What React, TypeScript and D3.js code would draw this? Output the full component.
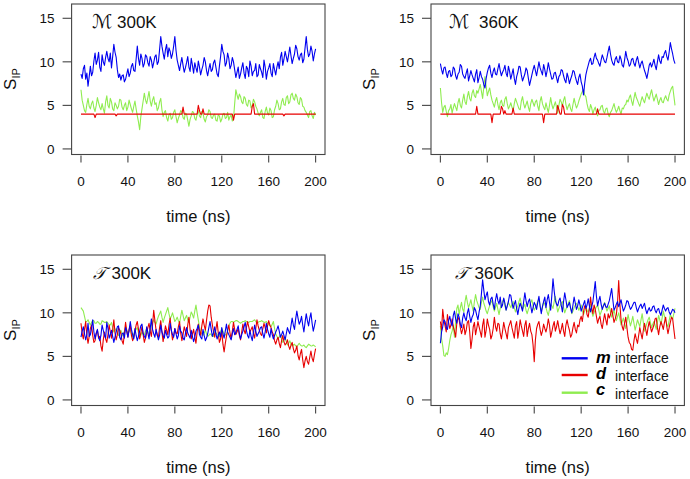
import React from "react";
import * as d3 from "d3";

// sampling interval of the series (ns)
const SAMPLE_NS = 1;
const xTickValues = [0, 40, 80, 120, 160, 200];
const yTickValues = [0, 5, 10, 15];
const seriesNames = ["m", "d", "c"];
const seriesColors = ["#0000f0", "#e80000", "#8fec50"];

// M 300K
const m300Blue = [
  8.6, 8.1, 9.2, 9.6, 8.0, 8.7, 7.2, 8.3, 9.5, 8.4,
  8.8, 10.1, 11.0, 9.7, 10.2, 11.1, 9.4, 8.9, 10.8, 10.0,
  9.6, 10.5, 11.2, 10.4, 10.0, 11.0, 9.3, 10.6, 12.0, 11.1,
  10.5, 9.1, 8.2, 8.6, 7.9, 8.4, 8.5, 7.7, 8.0, 8.6,
  9.2, 8.3, 8.7, 9.5, 9.8, 9.0, 8.9, 10.3, 11.8, 10.4,
  9.6, 10.9, 10.4, 9.4, 9.8, 10.8, 10.6, 9.9, 9.5, 10.6,
  10.2, 9.3, 9.9, 10.6, 10.8, 9.7, 10.0, 11.4, 12.9, 11.8,
  11.0, 10.3, 11.4, 12.0, 10.6, 11.6, 11.2, 10.4, 10.9, 11.8,
  12.9, 11.3, 10.2, 9.6, 9.0, 9.8, 10.5, 9.6, 8.8, 9.3,
  9.9, 10.6, 9.4, 8.9, 10.4, 9.6, 8.7, 9.9, 9.3, 8.8,
  10.1, 9.4, 8.5, 9.1, 9.6, 10.5, 10.0, 9.0, 8.4, 9.2,
  9.8, 8.9, 9.1, 9.9, 10.2, 9.4, 8.6, 8.3, 9.5, 10.6,
  12.0, 11.2, 10.8, 9.5, 9.9, 11.0, 10.4, 9.2, 9.6, 10.5,
  10.0, 9.1, 8.2, 8.8, 9.4, 8.1, 8.6, 9.3, 9.9, 8.7,
  8.1, 9.5, 9.2, 8.3, 10.1, 9.5, 8.4, 8.9, 9.0, 9.8,
  8.3, 8.5, 9.7, 9.2, 8.8, 8.2, 10.2, 9.4, 8.0, 8.9,
  9.3, 9.8, 8.7, 8.3, 9.8, 9.1, 8.5, 9.4, 10.0, 9.2,
  10.5, 11.1, 9.6, 10.3, 11.2, 10.6, 10.0, 10.8, 11.7, 10.7,
  9.8, 10.4, 10.9, 11.9, 11.5, 10.6, 10.2, 10.8, 11.0, 9.9,
  10.3, 11.6, 12.9, 11.4, 10.6, 10.9, 11.8, 11.2, 10.1, 10.9,
  11.5,
];
const m300Red = [
  4, 4, 4, 4, 4, 4, 4, 4, 4, 4,
  4, 4, 3.6, 4, 4, 4, 4, 4, 4, 4,
  4, 4, 4, 4, 4, 4, 4, 4, 4, 4,
  3.8, 4, 4, 4, 4, 4, 4, 4, 4, 4,
  4, 4, 4, 4, 4, 4, 4, 4, 4, 4,
  4, 4, 4, 4, 4, 4, 4, 4, 4, 4,
  4, 4, 4, 4, 4, 4, 4, 4, 4, 4,
  4, 4, 4, 4, 4, 4, 4, 4, 4, 4,
  4, 4, 4, 4, 4, 4, 4, 4.8, 4, 4,
  4, 4, 4, 4, 4, 4, 4, 4, 4, 4,
  5.0, 4.4, 4, 4, 4.6, 4, 4, 4, 4, 4,
  4, 4, 4, 4, 4, 4, 4, 4, 4, 4,
  4, 4, 4, 4, 4, 4, 4, 4, 4, 4,
  3.3, 4, 4, 4, 4, 4, 4, 4, 4, 4,
  4, 4, 4, 4, 4, 4, 4.9, 5.2, 4, 4,
  4, 4, 4, 4, 4, 4, 4, 4, 4, 4,
  4, 4, 4, 4, 4, 4, 4, 4, 4, 4,
  4, 4, 4, 3.8, 4, 4, 4, 4, 4, 4,
  4, 4, 4, 4, 4, 4, 4, 4, 4, 4,
  4, 4, 4, 4, 4, 4, 4, 4, 4, 4,
  4,
];
const m300Green = [
  6.8, 5.6, 5.0, 4.4, 4.2, 5.1, 5.8, 4.9, 4.6, 5.2,
  5.5, 4.7, 4.3, 5.0, 5.9, 5.3, 4.8, 4.5, 5.2, 4.6,
  4.1, 5.4, 6.1, 5.0, 4.7, 5.8, 5.4, 4.6, 4.4, 5.3,
  5.0, 4.6, 4.9, 5.7, 5.6, 4.8, 4.5, 5.0, 5.3, 4.4,
  4.8, 5.6, 5.1, 4.6, 4.2, 4.9, 5.5, 4.6, 3.8, 3.1,
  2.2, 3.7, 4.6, 5.5, 6.4, 5.6, 5.2, 5.9, 6.6, 5.5,
  4.9, 5.6, 6.0, 5.1, 5.3, 4.4, 4.7, 5.4, 5.8, 4.5,
  3.7, 4.2, 4.4, 3.6, 3.2, 3.9, 4.1, 3.4, 3.6, 4.2,
  4.5, 3.7, 3.0, 3.5, 3.9, 4.4, 4.3, 3.6, 3.4, 4.1,
  4.0, 3.3, 2.6, 3.4, 3.8, 4.3, 4.2, 3.5, 3.3, 4.0,
  4.4, 3.8, 3.6, 4.3, 4.1, 3.4, 3.1, 3.7, 3.9, 4.5,
  4.3, 3.6, 3.5, 3.9, 4.0, 3.3, 3.2, 3.9, 3.8, 3.1,
  3.4, 4.0, 4.1, 3.5, 3.6, 4.2, 3.3, 3.7, 3.9, 3.2,
  3.5, 5.2, 6.8, 6.2, 5.7, 6.3, 6.0, 5.4, 5.2, 6.0,
  5.8, 5.1, 4.9, 5.6, 5.5, 4.7, 5.0, 5.7, 5.4, 4.9,
  4.6, 4.1, 3.8, 4.2, 4.5, 3.6, 3.5, 4.3, 4.8, 4.1,
  3.9, 4.7, 4.4, 3.6, 3.7, 4.5, 4.9, 5.6, 5.2, 4.5,
  4.6, 5.4, 5.8, 5.1, 5.0, 5.9, 6.1, 5.2, 5.4, 6.2,
  6.4, 5.8, 5.6, 6.3, 6.0, 5.3, 5.1, 5.9, 5.7, 4.9,
  4.8, 4.4, 4.2, 3.9, 3.6, 4.3, 4.4, 3.8, 3.5, 4.2,
  3.9,
];

// M 360K
const m360Blue = [
  9.8, 9.1, 8.6, 9.3, 9.4, 8.7, 8.2, 8.9, 9.0, 8.3,
  8.5, 9.4, 9.2, 8.4, 8.0, 8.6, 8.8, 9.7, 9.5, 8.6,
  8.3, 8.1, 8.7, 9.2, 7.8, 8.4, 9.0, 8.5, 8.1, 7.7,
  8.6, 9.1, 7.6, 8.2, 8.9, 8.3, 8.0, 7.4, 7.0, 8.1,
  8.8, 9.3, 9.6, 8.7, 8.2, 8.9, 9.3, 8.6, 8.5, 9.2,
  9.8, 9.0, 8.4, 8.8, 9.1, 9.6, 8.7, 8.3, 9.5, 8.9,
  8.0, 8.6, 9.2, 8.1, 7.4, 8.3, 8.8, 9.5, 9.4, 8.5,
  7.8, 8.2, 8.6, 9.3, 9.0, 8.1, 7.3, 7.9, 8.5, 9.1,
  9.6, 9.0, 8.4, 9.2, 10.0, 9.3, 8.9, 8.5, 9.7, 9.1,
  8.3, 9.0, 9.9, 9.2, 8.6, 8.0, 8.1, 8.7, 8.8, 8.2,
  7.6, 8.3, 8.5, 9.1, 9.0, 8.4, 7.9, 7.6, 8.7, 8.2,
  7.5, 8.0, 8.4, 9.0, 8.9, 8.3, 7.8, 7.4, 8.2, 8.6,
  7.7, 7.2, 6.2, 7.5, 8.5, 9.1, 9.6, 10.1, 10.4, 9.7,
  9.8, 10.5, 11.0, 10.4, 10.2, 9.8, 9.5, 10.2, 10.8, 10.4,
  10.0, 9.9, 10.5, 11.2, 11.8, 10.9, 10.2, 9.8, 9.6, 10.3,
  10.6, 10.0, 9.9, 10.7, 10.3, 9.6, 9.4, 10.2, 11.2, 10.5,
  10.1, 9.5, 9.7, 10.3, 10.4, 9.8, 9.5, 10.2, 10.6, 9.9,
  9.3, 9.8, 10.1, 9.5, 9.0, 8.6, 8.1, 8.8, 9.6, 9.9,
  9.4, 9.8, 10.3, 9.6, 9.1, 10.0, 10.8, 10.1, 9.8, 10.6,
  10.5, 11.0, 11.3, 10.6, 10.2, 11.1, 12.2, 11.5, 10.9, 10.2,
  9.8,
];
const m360Red = [
  4, 4, 4, 4, 4, 4, 4, 4, 4, 4,
  4, 4, 4, 4, 4, 4, 4, 4, 4, 4,
  4, 4, 4, 4, 4, 4, 4, 4, 4, 4,
  4, 4.9, 4, 4, 4, 4, 4, 4, 4, 4,
  4, 4, 4, 4, 3.0, 4, 4, 4, 4, 4,
  4, 4, 4.9, 4.6, 4, 4.4, 4, 4, 4, 4,
  4, 4, 4.7, 4, 4, 4, 4, 4, 4, 4,
  4, 4, 4, 4, 4, 4, 4, 4, 4, 4,
  4, 4, 4, 4, 4, 4, 4, 4, 3.0, 4,
  4, 4, 4, 4, 4, 4, 4, 4, 4, 4,
  5.0, 4.5, 4, 4, 5.1, 4.8, 4, 4, 4, 4,
  4, 4, 4, 4, 4, 4, 4, 4, 4, 4,
  4, 4, 4, 4, 4, 4, 4, 4, 4, 4,
  4, 4, 4, 4, 4.6, 4, 4, 4, 4, 4,
  4, 4, 4, 4, 4, 4, 4, 4, 4, 4,
  4, 4, 4, 4, 4, 4, 4, 4, 4, 4,
  4, 4, 4, 4, 4, 4, 4, 4, 4, 4,
  4, 4, 4, 4, 4, 4, 4, 4, 4, 4,
  4, 4, 4, 4, 4, 4, 4, 4, 4, 4,
  4, 4, 4, 4, 4, 4, 4, 4, 4, 4,
  4,
];
const m360Green = [
  7.0, 5.3, 4.2, 4.8, 5.0, 4.3, 3.7, 4.4, 4.6, 5.1,
  4.1, 4.7, 5.2, 4.8, 4.4, 5.3, 5.8, 5.0, 4.7, 5.6,
  6.3, 5.4, 5.1, 6.0, 6.6, 5.8, 5.5, 6.4, 6.8, 6.1,
  5.9, 6.7, 6.4, 6.9, 7.4, 6.6, 5.8, 7.1, 8.3, 7.2,
  6.1, 6.6, 7.0, 6.2, 5.6, 5.2, 4.8, 5.5, 5.9, 5.1,
  4.5, 5.3, 5.6, 5.0, 4.9, 5.7, 6.0, 5.2, 4.6, 4.9,
  5.3, 4.8, 4.4, 5.2, 5.8, 5.4, 5.0, 4.6, 4.5, 5.5,
  6.0, 5.2, 4.7, 5.1, 5.5, 4.8, 4.3, 5.2, 5.7, 5.3,
  4.9, 5.4, 5.6, 4.9, 4.4, 5.5, 6.0, 5.2, 4.8, 4.5,
  5.3, 4.7, 4.2, 5.0, 5.9, 5.1, 4.6, 5.0, 5.4, 4.8,
  4.1, 5.0, 5.7, 5.4, 4.9, 5.6, 6.0, 5.1, 4.5, 4.9,
  5.2, 4.6, 4.3, 5.1, 5.8, 5.2, 4.7, 5.0, 5.5, 5.9,
  6.3, 6.6, 6.8, 6.2, 6.0, 5.2, 4.6, 4.3, 5.1, 4.7,
  4.0, 4.5, 4.8, 4.2, 3.8, 4.4, 4.5, 4.9, 5.0, 4.3,
  4.1, 4.6, 4.7, 4.0, 3.7, 4.2, 4.4, 4.8, 5.2, 4.6,
  4.2, 4.5, 4.9, 4.4, 4.0, 4.7, 4.6, 5.0, 5.1, 5.6,
  5.4, 5.9, 6.2, 5.5, 5.0, 5.8, 6.5, 5.9, 5.6, 5.2,
  4.9, 5.5, 6.0, 5.6, 5.3, 5.9, 6.4, 6.0, 5.7, 6.3,
  6.8, 6.1, 5.5, 5.9, 6.3, 5.7, 5.1, 5.6, 5.9, 5.4,
  5.3, 5.8, 6.1, 5.7, 5.5, 6.2, 6.6, 7.0, 7.2, 6.1,
  5.0,
];

// T 300K
const t300Blue = [
  7.2, 7.9, 8.4, 7.6, 6.9, 7.5, 8.8, 7.3, 7.5, 8.2,
  9.2, 7.8, 7.0, 7.6, 8.1, 7.2, 6.8, 7.4, 8.6, 8.0,
  7.4, 7.1, 8.9, 8.2, 7.1, 7.5, 8.0, 7.3, 6.6, 7.2,
  7.8, 8.4, 8.5, 7.2, 6.9, 7.6, 7.7, 7.1, 8.3, 7.9,
  7.2, 8.0, 9.0, 8.1, 7.5, 7.0, 8.2, 7.4, 6.8, 7.3,
  7.9, 8.5, 8.7, 7.6, 7.3, 7.1, 8.4, 7.7, 7.0, 8.2,
  9.3, 8.1, 7.6, 7.2, 8.1, 7.5, 6.9, 7.4, 8.6, 7.8,
  7.4, 7.1, 8.0, 7.5, 7.1, 7.3, 8.8, 8.0, 7.5, 7.2,
  8.2, 7.6, 7.0, 7.4, 8.5, 7.9, 7.7, 7.1, 6.9, 7.6,
  8.3, 7.7, 7.4, 7.1, 8.0, 7.3, 6.7, 7.2, 7.9, 8.2,
  8.6, 7.5, 7.2, 7.0, 8.1, 7.4, 6.8, 7.1, 7.6, 8.3,
  9.0, 8.1, 7.3, 7.7, 8.4, 7.6, 7.0, 7.4, 7.8, 7.2,
  8.3, 7.6, 7.1, 7.9, 8.7, 7.8, 7.5, 7.2, 6.9, 7.6,
  8.2, 7.5, 7.7, 8.1, 8.5, 7.6, 7.0, 7.5, 7.9, 8.4,
  8.9, 8.0, 7.4, 7.1, 8.0, 7.3, 6.8, 7.7, 8.6, 7.9,
  7.3, 7.6, 7.9, 8.3, 8.4, 7.6, 7.1, 7.8, 8.8, 8.1,
  7.6, 7.2, 8.2, 7.5, 7.0, 7.4, 7.8, 8.1, 8.5, 7.9,
  7.2, 7.5, 7.9, 7.4, 6.9, 7.6, 8.3, 7.9, 7.6, 8.5,
  9.4, 8.6, 8.1, 9.3, 10.2, 9.4, 8.7, 9.0, 9.6, 8.6,
  7.8, 8.9, 9.9, 9.1, 8.5, 9.4, 10.0, 8.8, 7.9, 8.5,
  9.2,
];
const t300Red = [
  8.8, 7.6, 7.0, 8.1, 9.0, 7.4, 6.5, 7.3, 8.2, 8.6,
  7.4, 6.6, 6.8, 7.7, 8.0, 7.1, 7.3, 6.2, 5.6, 6.9,
  7.8, 7.0, 6.6, 7.5, 8.6, 7.8, 7.1, 8.0, 9.2, 7.7,
  6.9, 7.5, 8.3, 8.0, 7.6, 6.8, 6.4, 7.6, 8.9, 7.9,
  7.2, 8.1, 8.5, 7.4, 6.8, 7.2, 7.9, 8.6, 9.0, 8.1,
  7.0, 7.7, 8.4, 7.5, 6.6, 7.1, 7.7, 8.3, 8.8, 7.9,
  7.3, 8.6, 10.3, 9.1, 8.0, 7.4, 7.2, 8.3, 9.1, 7.8,
  6.7, 7.6, 8.5, 8.0, 7.5, 8.6, 9.4, 8.0, 6.9, 7.4,
  8.2, 7.7, 7.6, 8.4, 9.0, 7.7, 6.8, 7.5, 8.4, 7.9,
  7.3, 8.6, 9.5, 8.1, 7.0, 7.6, 8.1, 7.2, 6.5, 7.8,
  8.7, 8.0, 7.4, 8.5, 9.3, 8.6, 8.0, 9.1, 10.2, 10.9,
  10.8, 9.5, 8.6, 7.8, 7.2, 8.1, 9.0, 7.7, 6.6, 7.0,
  7.9, 6.4, 5.5, 6.5, 7.3, 8.0, 8.6, 7.7, 7.0, 7.9,
  8.9, 8.1, 7.5, 7.8, 8.2, 7.4, 6.9, 7.8, 8.7, 8.0,
  7.6, 8.3, 9.0, 8.4, 7.8, 8.1, 8.4, 7.6, 7.1, 8.2,
  9.2, 8.5, 8.0, 7.6, 7.4, 8.2, 8.8, 8.3, 7.7, 8.5,
  9.1, 8.6, 8.3, 7.8, 7.5, 6.8, 6.4, 6.9, 7.2, 6.5,
  6.0, 6.8, 7.4, 6.7, 6.3, 6.5, 6.9, 6.2, 5.8, 6.3,
  6.6, 5.9, 5.4, 5.7, 6.2, 5.1, 4.6, 5.3, 5.8, 4.6,
  3.7, 4.5, 5.0, 4.4, 4.1, 4.9, 5.6, 4.8, 4.4, 5.2,
  5.9,
];
const t300Green = [
  10.6, 10.4, 10.2, 9.6, 9.0, 9.0, 9.2, 8.9, 8.6, 8.9,
  9.1, 9.1, 8.8, 8.8, 9.0, 8.9, 8.7, 8.7, 9.1, 9.0,
  8.9, 8.9, 9.0, 8.8, 8.6, 8.6, 8.9, 8.3, 7.8, 8.0,
  8.2, 7.8, 7.4, 7.7, 8.0, 7.6, 7.3, 7.9, 8.4, 8.0,
  7.6, 7.9, 8.1, 7.6, 7.2, 7.6, 7.9, 8.1, 8.3, 7.7,
  7.1, 7.4, 7.8, 7.6, 7.5, 7.9, 8.2, 7.8, 7.4, 8.0,
  8.6, 8.9, 9.2, 8.9, 8.7, 9.2, 9.6, 9.9, 10.2, 9.5,
  8.9, 9.4, 9.8, 10.2, 10.6, 9.9, 9.3, 9.6, 10.0, 9.5,
  9.0, 9.2, 9.5, 9.1, 8.8, 9.6, 10.3, 9.7, 9.1, 9.4,
  9.7, 9.2, 8.9, 9.5, 10.1, 9.8, 9.4, 10.2, 10.9, 10.0,
  9.2, 8.4, 7.8, 7.6, 7.4, 7.7, 8.0, 7.6, 7.3, 7.4,
  7.6, 7.5, 7.3, 7.3, 7.9, 7.7, 7.5, 7.4, 7.3, 7.8,
  8.2, 7.9, 7.6, 7.5, 7.4, 7.9, 8.5, 8.8, 9.0, 9.0,
  8.9, 9.0, 9.1, 9.1, 9.0, 8.9, 8.8, 8.9, 9.0, 9.0,
  9.1, 9.0, 8.9, 8.9, 9.0, 9.0, 9.0, 9.1, 9.2, 9.0,
  8.8, 8.9, 9.0, 9.0, 9.1, 9.0, 8.9, 8.9, 9.0, 8.8,
  8.7, 8.5, 8.4, 8.7, 9.0, 8.2, 7.6, 7.3, 7.0, 7.2,
  7.5, 7.0, 6.6, 6.9, 7.2, 6.7, 6.3, 6.5, 6.8, 6.4,
  6.2, 6.3, 6.4, 6.2, 6.1, 6.3, 6.5, 6.3, 6.2, 6.2,
  6.3, 6.1, 6.0, 6.2, 6.4, 6.3, 6.2, 6.2, 6.3, 6.2,
  6.1,
];

// T 360K
const t360Blue = [
  6.5, 7.8, 8.4, 9.2, 9.0, 8.3, 8.1, 9.1, 9.6, 8.9,
  8.5, 9.7, 10.2, 9.3, 8.8, 9.9, 9.5, 8.7, 8.3, 9.4,
  10.0, 9.4, 9.1, 10.0, 10.5, 9.6, 8.9, 9.5, 9.8, 10.6,
  10.3, 9.7, 9.2, 10.1, 10.8, 12.2, 13.8, 12.6, 11.5, 12.0,
  12.4, 11.3, 10.9, 11.6, 11.8, 11.0, 10.4, 11.5, 12.2, 11.4,
  11.0, 11.8, 10.6, 10.9, 11.7, 11.1, 10.3, 10.8, 11.3, 12.1,
  12.0, 11.2, 10.5, 11.0, 11.4, 10.5, 9.8, 10.6, 11.1, 10.7,
  10.2, 11.3, 12.3, 11.4, 10.7, 11.3, 11.6, 10.8, 10.0, 10.6,
  11.2, 10.9, 10.4, 11.2, 11.9, 10.8, 9.9, 10.7, 11.3, 11.8,
  10.6, 11.5, 12.1, 11.2, 10.3, 12.0, 13.9, 12.5, 11.4, 11.0,
  10.8, 11.4, 11.7, 10.9, 10.1, 11.3, 12.3, 11.5, 10.6, 10.9,
  11.2, 10.5, 10.0, 10.9, 11.8, 11.1, 10.4, 10.8, 11.5, 10.9,
  10.2, 10.6, 11.0, 11.4, 10.5, 10.9, 11.6, 10.8, 10.1, 10.7,
  11.3, 12.4, 13.6, 11.9, 10.8, 11.4, 11.9, 11.0, 10.4, 10.8,
  11.1, 10.7, 10.6, 11.0, 11.4, 12.1, 12.8, 11.5, 10.3, 10.6,
  11.0, 11.3, 10.7, 11.1, 11.5, 10.8, 10.2, 10.5, 10.9, 11.4,
  11.3, 10.8, 10.4, 10.6, 10.9, 11.2, 11.2, 10.6, 10.1, 10.5,
  10.8, 11.0, 10.5, 10.8, 11.1, 10.4, 9.9, 10.3, 10.6, 10.2,
  10.3, 10.7, 10.8, 10.3, 10.0, 10.4, 10.5, 10.0, 9.7, 10.3,
  10.9, 10.5, 10.2, 10.5, 10.6, 10.1, 9.8, 10.1, 10.4, 10.3,
  10.0,
];
const t360Red = [
  9.0, 8.0, 10.4, 9.2, 8.5, 7.8, 9.8, 8.9, 8.2, 8.6,
  9.3, 8.4, 7.9, 7.2, 8.8, 9.5, 9.2, 8.3, 7.6, 8.1,
  8.7, 7.5, 8.0, 8.9, 9.1, 7.8, 5.9, 7.0, 8.4, 8.9,
  7.5, 8.2, 9.0, 8.4, 7.8, 7.2, 8.6, 9.3, 7.2, 8.0,
  9.3, 8.6, 8.1, 7.0, 7.4, 8.2, 9.5, 8.4, 7.9, 8.8,
  8.7, 7.6, 7.0, 7.9, 8.9, 8.2, 7.6, 7.0, 8.3, 8.7,
  9.1, 8.3, 7.7, 7.1, 8.5, 9.0, 7.1, 8.0, 9.2, 8.5,
  7.9, 7.3, 8.6, 9.1, 7.3, 8.2, 8.8, 7.9, 7.5, 6.3,
  4.4, 6.9, 8.2, 8.7, 9.0, 8.1, 7.4, 7.9, 8.7, 8.2,
  7.8, 8.4, 9.3, 8.6, 7.2, 7.8, 8.5, 9.0, 7.9, 8.4,
  9.1, 8.3, 7.6, 8.1, 8.8, 7.9, 7.3, 8.6, 9.2, 8.5,
  8.0, 7.2, 7.5, 8.3, 8.9, 8.1, 7.7, 8.6, 8.4, 9.2,
  9.6, 9.0, 10.1, 10.8, 10.7, 9.8, 9.5, 10.5, 11.8, 10.6,
  9.9, 10.9, 10.4, 9.6, 8.8, 9.3, 9.6, 8.7, 8.2, 9.1,
  9.9, 9.2, 8.6, 9.9, 9.4, 9.8, 10.5, 9.7, 8.9, 9.3,
  9.8, 11.2, 13.7, 11.0, 9.2, 8.4, 8.0, 8.8, 9.5, 8.3,
  7.2, 6.6, 6.4, 5.8, 5.7, 6.8, 7.6, 7.0, 6.5, 7.4,
  8.3, 7.6, 7.0, 8.0, 8.8, 8.1, 7.4, 8.3, 9.0, 8.4,
  7.8, 8.2, 8.6, 9.3, 9.4, 8.3, 7.5, 8.4, 9.0, 8.6,
  8.1, 8.9, 9.5, 8.4, 7.6, 8.3, 8.9, 9.5, 9.3, 8.1,
  7.0,
];
const t360Green = [
  8.5, 7.0, 6.2, 5.1, 5.0, 5.4, 5.2, 5.9, 6.8, 7.5,
  7.9, 8.6, 7.2, 9.0, 10.5, 10.9, 9.8, 10.6, 11.2, 10.4,
  10.1, 11.3, 12.0, 11.2, 10.6, 11.0, 11.5, 10.8, 10.2, 11.3,
  12.1, 11.4, 11.0, 10.6, 10.4, 11.2, 11.8, 11.1, 10.7, 10.2,
  9.9, 10.4, 10.8, 11.2, 11.4, 10.7, 10.2, 10.6, 11.1, 10.4,
  9.8, 10.5, 10.9, 11.3, 11.6, 10.8, 10.3, 10.8, 11.2, 10.9,
  10.6, 11.0, 11.3, 10.6, 10.1, 10.5, 10.8, 11.3, 11.7, 11.0,
  10.4, 10.7, 11.0, 10.3, 9.9, 10.4, 10.7, 11.2, 11.5, 10.8,
  10.3, 10.6, 10.9, 11.3, 11.6, 10.8, 10.2, 10.7, 11.2, 11.0,
  10.6, 10.1, 9.7, 10.4, 11.0, 10.8, 10.5, 11.3, 11.9, 10.9,
  10.1, 10.5, 10.8, 11.1, 11.3, 10.6, 10.0, 10.4, 10.7, 11.1,
  11.4, 10.6, 9.9, 10.2, 10.6, 10.9, 11.1, 10.7, 10.3, 10.6,
  10.9, 10.3, 9.8, 10.2, 10.6, 10.3, 10.1, 10.5, 11.0, 10.2,
  9.6, 10.0, 10.4, 10.7, 10.9, 10.3, 9.7, 10.1, 10.5, 10.9,
  11.2, 10.7, 10.2, 10.5, 10.8, 10.1, 9.5, 9.9, 10.3, 9.7,
  9.1, 9.6, 10.0, 9.3, 8.6, 9.0, 9.4, 8.8, 8.2, 9.0,
  9.8, 9.1, 8.5, 9.0, 9.6, 8.8, 8.0, 8.6, 9.2, 8.8,
  8.4, 9.2, 9.9, 8.9, 7.9, 8.3, 8.8, 9.2, 9.5, 8.9,
  8.3, 8.7, 9.0, 8.6, 8.1, 8.9, 9.7, 9.2, 8.6, 9.4,
  10.2, 9.6, 9.1, 8.7, 8.4, 9.1, 9.8, 9.5, 9.3, 9.9,
  10.5,
];

const FONT = "'Liberation Sans', Arial, Helvetica, sans-serif";

type PanelDef = {
  box: [number, number, number, number]; // left, top, right, bottom
  glyph: string;
  glyphX: number;
  glyphSize: number;
  temp: string;
  tempX: number;
  titleY: number;
  series: number[][]; // m, d, c
  legend?: boolean;
};

const panels: PanelDef[] = [
  { box: [71.6, 4, 325, 154.5], glyph: "\u2133", glyphX: 92, glyphSize: 19, temp: "300K", tempX: 117, titleY: 28, series: [m300Blue, m300Red, m300Green] },
  { box: [431, 4, 684.4, 154.5], glyph: "\u2133", glyphX: 449, glyphSize: 19, temp: "360K", tempX: 479, titleY: 28, series: [m360Blue, m360Red, m360Green] },
  { box: [71.6, 255, 325, 405.5], glyph: "\u{1D4AF}", glyphX: 93, glyphSize: 17, temp: "300K", tempX: 111.5, titleY: 278.5, series: [t300Blue, t300Red, t300Green] },
  { box: [431, 255, 684.4, 405.5], glyph: "\u{1D4AF}", glyphX: 455, glyphSize: 17, temp: "360K", tempX: 474.5, titleY: 278.5, series: [t360Blue, t360Red, t360Green], legend: true },
];

const drawOrder = [2, 1, 0]; // green, red, then blue on top

function Panel({ p }: { p: PanelDef }) {
  const [L, T, R, B] = p.box;
  const x = d3.scaleLinear().domain([-8, 208]).range([L, R]);
  const y = d3.scaleLinear().domain([-0.64, 16.64]).range([B, T]);
  const line = d3
    .line<number>()
    .x((_, i) => x(i * SAMPLE_NS))
    .y((v) => y(v));
  const axisColor = "#444";
  return (
    <g>
      {drawOrder.map((k) => (
        <path key={k} d={line(p.series[k]) || ""} fill="none" stroke={seriesColors[k]} strokeWidth={1.1} strokeLinejoin="round" />
      ))}
      <rect x={L} y={T} width={R - L} height={B - T} fill="none" stroke={axisColor} strokeWidth={1.1} />
      {xTickValues.map((t) => (
        <g key={"x" + t}>
          <line x1={x(t)} x2={x(t)} y1={B + 1} y2={B + 8} stroke={axisColor} strokeWidth={1.1} />
          <text x={x(t)} y={B + 31} textAnchor="middle" fontSize={13.5} fontFamily={FONT} fill="#111">{t}</text>
        </g>
      ))}
      {yTickValues.map((t) => (
        <g key={"y" + t}>
          <line x1={L - 9} x2={L} y1={y(t)} y2={y(t)} stroke={axisColor} strokeWidth={1.1} />
          <text x={L - 17} y={y(t)} dy="0.36em" textAnchor="end" fontSize={13.5} fontFamily={FONT} fill="#111">{t}</text>
        </g>
      ))}
      <text x={(x(0) + x(200)) / 2} y={B + 67} textAnchor="middle" fontSize={16.5} fontFamily={FONT} fill="#111">time (ns)</text>
      <text transform={`translate(${L - 56},${T + 75}) rotate(-90)`} textAnchor="middle" fontFamily={FONT} fill="#111">
        <tspan fontSize={17}>S</tspan>
        <tspan fontSize={11} dy={4}>IP</tspan>
      </text>
      <text x={p.glyphX} y={p.titleY} fontSize={p.glyphSize} fontFamily="'DejaVu Serif', 'DejaVu Sans', serif" fontStyle="italic" fill="#111">{p.glyph}</text>
      <text x={p.tempX} y={p.titleY} fontSize={17} fontFamily={FONT} fill="#111">{p.temp}</text>
      {p.legend && (
        <g>
          {seriesNames.map((n, k) => {
            const ly = [358.3, 375, 392.7][k];
            const lb = [363, 379, 395][k];
            const ib = [363, 381, 399][k];
            return (
              <g key={n}>
                <line x1={561.7} x2={587.7} y1={ly} y2={ly} stroke={seriesColors[k]} strokeWidth={2.4} />
                <text x={596} y={lb} fontSize={16.5} fontWeight="bold" fontStyle="italic" fontFamily={FONT} fill="#000">{n}</text>
                <text x={615} y={ib} fontSize={14} fontFamily={FONT} fill="#111">interface</text>
              </g>
            );
          })}
        </g>
      )}
    </g>
  );
}

export default function App() {
  return (
    <svg width={690} height={479} style={{ position: "absolute", left: 0, top: 0, background: "#fff" }}>
      <rect width={690} height={479} fill="#fff" />
      {panels.map((p, i) => (
        <Panel key={i} p={p} />
      ))}
    </svg>
  );
}
